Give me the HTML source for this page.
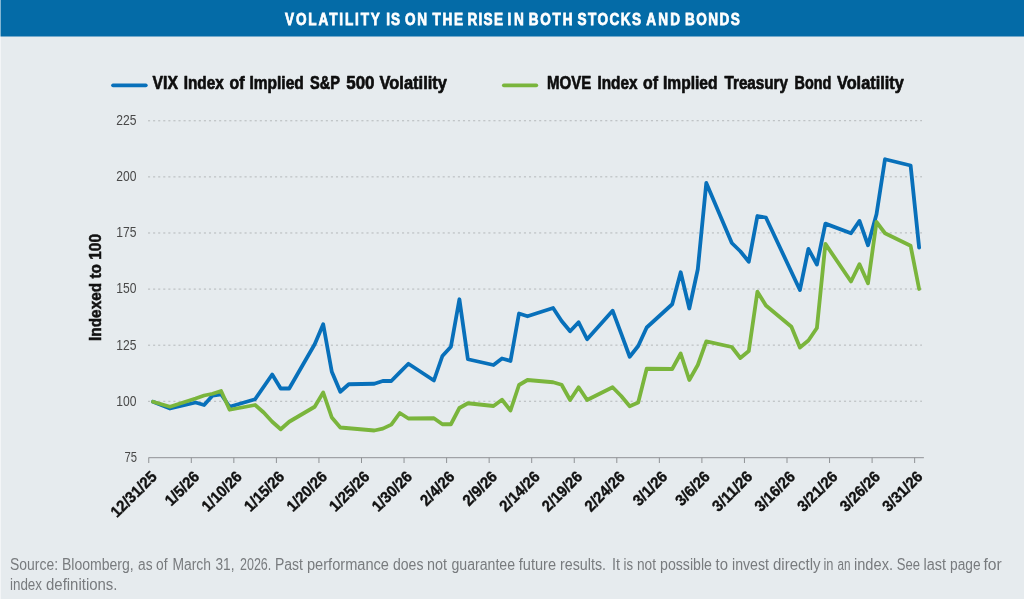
<!DOCTYPE html><html><head><meta charset="utf-8"><title>Volatility chart</title><style>html,body{margin:0;padding:0;background:#e6ebee}svg{display:block}text{font-family:"Liberation Sans",sans-serif}</style></head><body>
<svg width="1024" height="599" viewBox="0 0 1024 599">
<rect width="1024" height="599" fill="#e6ebee"/>
<rect width="1024" height="36.5" fill="#046ba7"/>
<text transform="translate(285 25) scale(0.8 1)" font-size="17" font-weight="bold" fill="#fff" stroke="#fff" stroke-width="0.75" letter-spacing="2.316">VOLATILITY</text>
<text transform="translate(386.25 25) scale(0.8 1)" font-size="17" font-weight="bold" fill="#fff" stroke="#fff" stroke-width="0.75" letter-spacing="1.125">IS</text>
<text transform="translate(405 25) scale(0.8 1)" font-size="17" font-weight="bold" fill="#fff" stroke="#fff" stroke-width="0.75" letter-spacing="2.000">ON</text>
<text transform="translate(432.5 25) scale(0.8 1)" font-size="17" font-weight="bold" fill="#fff" stroke="#fff" stroke-width="0.75" letter-spacing="2.062">THE</text>
<text transform="translate(467.5 25) scale(0.8 1)" font-size="17" font-weight="bold" fill="#fff" stroke="#fff" stroke-width="0.75" letter-spacing="1.562">RISE</text>
<text transform="translate(507.5 25) scale(0.8 1)" font-size="17" font-weight="bold" fill="#fff" stroke="#fff" stroke-width="0.75" letter-spacing="3.312">IN</text>
<text transform="translate(528.75 25) scale(0.8 1)" font-size="17" font-weight="bold" fill="#fff" stroke="#fff" stroke-width="0.75" letter-spacing="2.172">BOTH</text>
<text transform="translate(577.5 25) scale(0.8 1)" font-size="17" font-weight="bold" fill="#fff" stroke="#fff" stroke-width="0.75" letter-spacing="1.828">STOCKS</text>
<text transform="translate(646.25 25) scale(0.8 1)" font-size="17" font-weight="bold" fill="#fff" stroke="#fff" stroke-width="0.75" letter-spacing="2.672">AND</text>
<text transform="translate(685 25) scale(0.8 1)" font-size="17" font-weight="bold" fill="#fff" stroke="#fff" stroke-width="0.75" letter-spacing="1.836">BONDS</text>
<line x1="113" y1="85.3" x2="145.8" y2="85.3" stroke="#0870ba" stroke-width="3.7" stroke-linecap="round"/>
<line x1="503.8" y1="85.3" x2="536.3" y2="85.3" stroke="#7ab53c" stroke-width="3.7" stroke-linecap="round"/>
<text x="152.5" y="89.3" font-size="18.8" font-weight="bold" fill="#0e0e0e" textLength="25.50" lengthAdjust="spacingAndGlyphs" stroke="#0e0e0e" stroke-width="0.7" stroke-linejoin="round">VIX</text>
<text x="183.75" y="89.3" font-size="18.8" font-weight="bold" fill="#0e0e0e" textLength="40.00" lengthAdjust="spacingAndGlyphs" stroke="#0e0e0e" stroke-width="0.7" stroke-linejoin="round">Index</text>
<text x="229.5" y="89.3" font-size="18.8" font-weight="bold" fill="#0e0e0e" textLength="15.00" lengthAdjust="spacingAndGlyphs" stroke="#0e0e0e" stroke-width="0.7" stroke-linejoin="round">of</text>
<text x="249.5" y="89.3" font-size="18.8" font-weight="bold" fill="#0e0e0e" textLength="54.25" lengthAdjust="spacingAndGlyphs" stroke="#0e0e0e" stroke-width="0.7" stroke-linejoin="round">Implied</text>
<text x="310" y="89.3" font-size="18.8" font-weight="bold" fill="#0e0e0e" textLength="30.00" lengthAdjust="spacingAndGlyphs" stroke="#0e0e0e" stroke-width="0.7" stroke-linejoin="round">S&amp;P</text>
<text x="346.25" y="89.3" font-size="18.8" font-weight="bold" fill="#0e0e0e" textLength="28.25" lengthAdjust="spacingAndGlyphs" stroke="#0e0e0e" stroke-width="0.7" stroke-linejoin="round">500</text>
<text x="379.5" y="89.3" font-size="18.8" font-weight="bold" fill="#0e0e0e" textLength="67.50" lengthAdjust="spacingAndGlyphs" stroke="#0e0e0e" stroke-width="0.7" stroke-linejoin="round">Volatility</text>
<text x="547" y="89.3" font-size="18.8" font-weight="bold" fill="#0e0e0e" textLength="44.25" lengthAdjust="spacingAndGlyphs" stroke="#0e0e0e" stroke-width="0.7" stroke-linejoin="round">MOVE</text>
<text x="597.5" y="89.3" font-size="18.8" font-weight="bold" fill="#0e0e0e" textLength="40.00" lengthAdjust="spacingAndGlyphs" stroke="#0e0e0e" stroke-width="0.7" stroke-linejoin="round">Index</text>
<text x="643" y="89.3" font-size="18.8" font-weight="bold" fill="#0e0e0e" textLength="15.00" lengthAdjust="spacingAndGlyphs" stroke="#0e0e0e" stroke-width="0.7" stroke-linejoin="round">of</text>
<text x="663" y="89.3" font-size="18.8" font-weight="bold" fill="#0e0e0e" textLength="54.50" lengthAdjust="spacingAndGlyphs" stroke="#0e0e0e" stroke-width="0.7" stroke-linejoin="round">Implied</text>
<text x="724.5" y="89.3" font-size="18.8" font-weight="bold" fill="#0e0e0e" textLength="63.50" lengthAdjust="spacingAndGlyphs" stroke="#0e0e0e" stroke-width="0.7" stroke-linejoin="round">Treasury</text>
<text x="794.5" y="89.3" font-size="18.8" font-weight="bold" fill="#0e0e0e" textLength="36.75" lengthAdjust="spacingAndGlyphs" stroke="#0e0e0e" stroke-width="0.7" stroke-linejoin="round">Bond</text>
<text x="837" y="89.3" font-size="18.8" font-weight="bold" fill="#0e0e0e" textLength="66.75" lengthAdjust="spacingAndGlyphs" stroke="#0e0e0e" stroke-width="0.7" stroke-linejoin="round">Volatility</text>
<line x1="148" y1="120.80" x2="922" y2="120.70" stroke="#b4b8ba" stroke-width="1" stroke-dasharray="2.1 2.98"/>
<line x1="148" y1="176.90" x2="922" y2="176.80" stroke="#b4b8ba" stroke-width="1" stroke-dasharray="2.1 2.98"/>
<line x1="148" y1="233.00" x2="922" y2="232.90" stroke="#b4b8ba" stroke-width="1" stroke-dasharray="2.1 2.98"/>
<line x1="148" y1="289.10" x2="922" y2="289.00" stroke="#b4b8ba" stroke-width="1" stroke-dasharray="2.1 2.98"/>
<line x1="148" y1="345.20" x2="922" y2="345.10" stroke="#b4b8ba" stroke-width="1" stroke-dasharray="2.1 2.98"/>
<line x1="148" y1="401.30" x2="922" y2="401.20" stroke="#b4b8ba" stroke-width="1" stroke-dasharray="2.1 2.98"/>
<text x="116.3" y="125.10" font-size="15" fill="#484848" textLength="20.2" lengthAdjust="spacingAndGlyphs">225</text>
<text x="116.3" y="181.20" font-size="15" fill="#484848" textLength="20.2" lengthAdjust="spacingAndGlyphs">200</text>
<text x="116.3" y="237.30" font-size="15" fill="#484848" textLength="20.2" lengthAdjust="spacingAndGlyphs">175</text>
<text x="116.3" y="293.40" font-size="15" fill="#484848" textLength="20.2" lengthAdjust="spacingAndGlyphs">150</text>
<text x="116.3" y="349.50" font-size="15" fill="#484848" textLength="20.2" lengthAdjust="spacingAndGlyphs">125</text>
<text x="116.3" y="405.60" font-size="15" fill="#484848" textLength="20.2" lengthAdjust="spacingAndGlyphs">100</text>
<text x="124.6" y="461.70" font-size="15" fill="#484848" textLength="12.5" lengthAdjust="spacingAndGlyphs">75</text>
<path d="M148.5 457.7H923.9" stroke="#8f9295" stroke-width="1" fill="none"/>
<path d="M148.75 457.7V463" stroke="#8f9295" stroke-width="1" fill="none"/>
<text transform="translate(157.75 477.6) rotate(-45) scale(0.9366 1)" text-anchor="end" font-size="15.8" font-weight="bold" fill="#111" stroke="#111" stroke-width="0.4">12/31/25</text>
<path d="M191.30 457.7V463" stroke="#8f9295" stroke-width="1" fill="none"/>
<text transform="translate(200.30 477.6) rotate(-45) scale(0.9380 1)" text-anchor="end" font-size="15.8" font-weight="bold" fill="#111" stroke="#111" stroke-width="0.4">1/5/26</text>
<path d="M233.85 457.7V463" stroke="#8f9295" stroke-width="1" fill="none"/>
<text transform="translate(242.85 477.6) rotate(-45) scale(0.9370 1)" text-anchor="end" font-size="15.8" font-weight="bold" fill="#111" stroke="#111" stroke-width="0.4">1/10/26</text>
<path d="M276.40 457.7V463" stroke="#8f9295" stroke-width="1" fill="none"/>
<text transform="translate(285.40 477.6) rotate(-45) scale(0.9370 1)" text-anchor="end" font-size="15.8" font-weight="bold" fill="#111" stroke="#111" stroke-width="0.4">1/15/26</text>
<path d="M318.95 457.7V463" stroke="#8f9295" stroke-width="1" fill="none"/>
<text transform="translate(327.95 477.6) rotate(-45) scale(0.9370 1)" text-anchor="end" font-size="15.8" font-weight="bold" fill="#111" stroke="#111" stroke-width="0.4">1/20/26</text>
<path d="M361.50 457.7V463" stroke="#8f9295" stroke-width="1" fill="none"/>
<text transform="translate(370.50 477.6) rotate(-45) scale(0.9370 1)" text-anchor="end" font-size="15.8" font-weight="bold" fill="#111" stroke="#111" stroke-width="0.4">1/25/26</text>
<path d="M404.05 457.7V463" stroke="#8f9295" stroke-width="1" fill="none"/>
<text transform="translate(413.05 477.6) rotate(-45) scale(0.9370 1)" text-anchor="end" font-size="15.8" font-weight="bold" fill="#111" stroke="#111" stroke-width="0.4">1/30/26</text>
<path d="M446.60 457.7V463" stroke="#8f9295" stroke-width="1" fill="none"/>
<text transform="translate(455.60 477.6) rotate(-45) scale(0.9380 1)" text-anchor="end" font-size="15.8" font-weight="bold" fill="#111" stroke="#111" stroke-width="0.4">2/4/26</text>
<path d="M489.15 457.7V463" stroke="#8f9295" stroke-width="1" fill="none"/>
<text transform="translate(498.15 477.6) rotate(-45) scale(0.9380 1)" text-anchor="end" font-size="15.8" font-weight="bold" fill="#111" stroke="#111" stroke-width="0.4">2/9/26</text>
<path d="M531.70 457.7V463" stroke="#8f9295" stroke-width="1" fill="none"/>
<text transform="translate(540.70 477.6) rotate(-45) scale(0.9370 1)" text-anchor="end" font-size="15.8" font-weight="bold" fill="#111" stroke="#111" stroke-width="0.4">2/14/26</text>
<path d="M574.25 457.7V463" stroke="#8f9295" stroke-width="1" fill="none"/>
<text transform="translate(583.25 477.6) rotate(-45) scale(0.9370 1)" text-anchor="end" font-size="15.8" font-weight="bold" fill="#111" stroke="#111" stroke-width="0.4">2/19/26</text>
<path d="M616.80 457.7V463" stroke="#8f9295" stroke-width="1" fill="none"/>
<text transform="translate(625.80 477.6) rotate(-45) scale(0.9370 1)" text-anchor="end" font-size="15.8" font-weight="bold" fill="#111" stroke="#111" stroke-width="0.4">2/24/26</text>
<path d="M659.35 457.7V463" stroke="#8f9295" stroke-width="1" fill="none"/>
<text transform="translate(668.35 477.6) rotate(-45) scale(0.9380 1)" text-anchor="end" font-size="15.8" font-weight="bold" fill="#111" stroke="#111" stroke-width="0.4">3/1/26</text>
<path d="M701.90 457.7V463" stroke="#8f9295" stroke-width="1" fill="none"/>
<text transform="translate(710.90 477.6) rotate(-45) scale(0.9380 1)" text-anchor="end" font-size="15.8" font-weight="bold" fill="#111" stroke="#111" stroke-width="0.4">3/6/26</text>
<path d="M744.45 457.7V463" stroke="#8f9295" stroke-width="1" fill="none"/>
<text transform="translate(753.45 477.6) rotate(-45) scale(0.9529 1)" text-anchor="end" font-size="15.8" font-weight="bold" fill="#111" stroke="#111" stroke-width="0.4">3/11/26</text>
<path d="M787.00 457.7V463" stroke="#8f9295" stroke-width="1" fill="none"/>
<text transform="translate(796.00 477.6) rotate(-45) scale(0.9370 1)" text-anchor="end" font-size="15.8" font-weight="bold" fill="#111" stroke="#111" stroke-width="0.4">3/16/26</text>
<path d="M829.55 457.7V463" stroke="#8f9295" stroke-width="1" fill="none"/>
<text transform="translate(838.55 477.6) rotate(-45) scale(0.9370 1)" text-anchor="end" font-size="15.8" font-weight="bold" fill="#111" stroke="#111" stroke-width="0.4">3/21/26</text>
<path d="M872.10 457.7V463" stroke="#8f9295" stroke-width="1" fill="none"/>
<text transform="translate(881.10 477.6) rotate(-45) scale(0.9370 1)" text-anchor="end" font-size="15.8" font-weight="bold" fill="#111" stroke="#111" stroke-width="0.4">3/26/26</text>
<path d="M914.65 457.7V463" stroke="#8f9295" stroke-width="1" fill="none"/>
<text transform="translate(923.65 477.6) rotate(-45) scale(0.9370 1)" text-anchor="end" font-size="15.8" font-weight="bold" fill="#111" stroke="#111" stroke-width="0.4">3/31/26</text>
<text transform="translate(100.9 341) rotate(-90)" x="0" y="0" font-size="16.5" font-weight="bold" fill="#111" stroke="#111" stroke-width="0.5" textLength="107" lengthAdjust="spacingAndGlyphs">Indexed to 100</text>
<polyline points="153.0,401.75 170.0,408.50 195.6,402.50 204.1,405.00 212.6,395.50 221.1,394.25 229.6,406.75 255.1,399.25 272.2,374.50 280.7,388.50 289.2,388.50 314.7,344.25 323.2,324.25 331.8,371.75 340.3,391.75 348.8,384.25 374.3,383.75 382.8,381.00 391.3,381.00 399.8,372.40 408.4,363.75 433.9,380.50 442.4,356.00 450.9,346.75 459.4,299.25 467.9,359.25 493.5,365.00 502.0,358.50 510.5,361.00 519.0,313.50 527.5,316.25 553.1,308.00 561.6,321.00 570.1,331.25 578.6,322.25 587.1,339.25 612.6,310.70 621.2,333.70 629.7,356.75 638.2,346.00 646.7,327.50 672.2,304.25 680.7,272.25 689.3,308.50 697.8,269.25 706.3,183.00 731.8,243.00 740.3,251.25 748.8,261.75 757.4,216.00 765.9,217.50 799.9,290.00 808.4,248.90 816.9,264.50 825.4,223.60 851.0,233.25 859.5,220.90 868.0,245.25 876.5,214.25 885.0,159.25 910.6,165.50 919.1,247.50" fill="none" stroke="#0870ba" stroke-width="3.8" stroke-linejoin="round" stroke-linecap="round"/>
<polyline points="153.0,401.75 170.0,406.75 195.6,398.50 204.1,395.50 212.6,393.75 221.1,391.00 229.6,409.75 255.1,405.00 263.7,412.50 272.2,421.75 280.7,429.25 289.2,421.75 314.7,406.75 323.2,392.50 331.8,417.50 340.3,427.50 374.3,430.50 382.8,428.60 391.3,424.60 399.8,413.00 408.4,418.50 433.9,418.25 442.4,424.25 450.9,424.25 459.4,408.00 467.9,403.25 493.5,406.00 502.0,399.75 510.5,410.50 519.0,385.00 527.5,380.00 553.1,382.25 561.6,384.75 570.1,400.00 578.6,387.25 587.1,400.00 612.6,387.25 621.2,396.00 629.7,406.25 638.2,402.50 646.7,368.75 672.2,369.00 680.7,353.50 689.3,380.00 697.8,365.00 706.3,341.40 731.8,347.00 740.3,358.00 748.8,351.00 757.4,291.75 765.9,305.50 791.4,326.75 799.9,347.50 808.4,340.50 816.9,328.00 825.4,243.90 851.0,281.50 859.5,264.20 868.0,283.30 876.5,222.00 885.0,233.25 910.6,245.75 919.1,289.00" fill="none" stroke="#7ab53c" stroke-width="3.8" stroke-linejoin="round" stroke-linecap="round"/>
<text x="10" y="569.5" font-size="16" font-weight="normal" fill="#787b7e" textLength="48.00" lengthAdjust="spacingAndGlyphs">Source:</text>
<text x="62" y="569.5" font-size="16" font-weight="normal" fill="#787b7e" textLength="71.75" lengthAdjust="spacingAndGlyphs">Bloomberg,</text>
<text x="138" y="569.5" font-size="16" font-weight="normal" fill="#787b7e" textLength="14.50" lengthAdjust="spacingAndGlyphs">as</text>
<text x="156" y="569.5" font-size="16" font-weight="normal" fill="#787b7e" textLength="11.50" lengthAdjust="spacingAndGlyphs">of</text>
<text x="172.5" y="569.5" font-size="16" font-weight="normal" fill="#787b7e" textLength="38.50" lengthAdjust="spacingAndGlyphs">March</text>
<text x="215.5" y="569.5" font-size="16" font-weight="normal" fill="#787b7e" textLength="19.00" lengthAdjust="spacingAndGlyphs">31,</text>
<text x="240" y="569.5" font-size="16" font-weight="normal" fill="#787b7e" textLength="31.25" lengthAdjust="spacingAndGlyphs">2026.</text>
<text x="275" y="569.5" font-size="16" font-weight="normal" fill="#787b7e" textLength="28.00" lengthAdjust="spacingAndGlyphs">Past</text>
<text x="307" y="569.5" font-size="16" font-weight="normal" fill="#787b7e" textLength="82.00" lengthAdjust="spacingAndGlyphs">performance</text>
<text x="393" y="569.5" font-size="16" font-weight="normal" fill="#787b7e" textLength="30.40" lengthAdjust="spacingAndGlyphs">does</text>
<text x="427" y="569.5" font-size="16" font-weight="normal" fill="#787b7e" textLength="20.00" lengthAdjust="spacingAndGlyphs">not</text>
<text x="451.5" y="569.5" font-size="16" font-weight="normal" fill="#787b7e" textLength="63.50" lengthAdjust="spacingAndGlyphs">guarantee</text>
<text x="518.75" y="569.5" font-size="16" font-weight="normal" fill="#787b7e" textLength="37.25" lengthAdjust="spacingAndGlyphs">future</text>
<text x="560" y="569.5" font-size="16" font-weight="normal" fill="#787b7e" textLength="46.00" lengthAdjust="spacingAndGlyphs">results.</text>
<text x="612" y="569.5" font-size="16" font-weight="normal" fill="#787b7e" textLength="8.00" lengthAdjust="spacingAndGlyphs">It</text>
<text x="623.5" y="569.5" font-size="16" font-weight="normal" fill="#787b7e" textLength="9.50" lengthAdjust="spacingAndGlyphs">is</text>
<text x="637" y="569.5" font-size="16" font-weight="normal" fill="#787b7e" textLength="19.00" lengthAdjust="spacingAndGlyphs">not</text>
<text x="660" y="569.5" font-size="16" font-weight="normal" fill="#787b7e" textLength="52.00" lengthAdjust="spacingAndGlyphs">possible</text>
<text x="715.6" y="569.5" font-size="16" font-weight="normal" fill="#787b7e" textLength="12.40" lengthAdjust="spacingAndGlyphs">to</text>
<text x="732" y="569.5" font-size="16" font-weight="normal" fill="#787b7e" textLength="37.00" lengthAdjust="spacingAndGlyphs">invest</text>
<text x="773" y="569.5" font-size="16" font-weight="normal" fill="#787b7e" textLength="47.50" lengthAdjust="spacingAndGlyphs">directly</text>
<text x="823.5" y="569.5" font-size="16" font-weight="normal" fill="#787b7e" textLength="10.00" lengthAdjust="spacingAndGlyphs">in</text>
<text x="837.5" y="569.5" font-size="16" font-weight="normal" fill="#787b7e" textLength="13.00" lengthAdjust="spacingAndGlyphs">an</text>
<text x="854" y="569.5" font-size="16" font-weight="normal" fill="#787b7e" textLength="39.00" lengthAdjust="spacingAndGlyphs">index.</text>
<text x="896.75" y="569.5" font-size="16" font-weight="normal" fill="#787b7e" textLength="23.25" lengthAdjust="spacingAndGlyphs">See</text>
<text x="923.5" y="569.5" font-size="16" font-weight="normal" fill="#787b7e" textLength="22.50" lengthAdjust="spacingAndGlyphs">last</text>
<text x="950" y="569.5" font-size="16" font-weight="normal" fill="#787b7e" textLength="30.50" lengthAdjust="spacingAndGlyphs">page</text>
<text x="983.5" y="569.5" font-size="16" font-weight="normal" fill="#787b7e" textLength="18.25" lengthAdjust="spacingAndGlyphs">for</text>
<text x="10" y="589.5" font-size="16" font-weight="normal" fill="#787b7e" textLength="32.00" lengthAdjust="spacingAndGlyphs">index</text>
<text x="46" y="589.5" font-size="16" font-weight="normal" fill="#787b7e" textLength="71.50" lengthAdjust="spacingAndGlyphs">definitions.</text>
<rect x="0" y="0" width="1" height="599" fill="#fff" opacity="0.5"/>
</svg></body></html>
